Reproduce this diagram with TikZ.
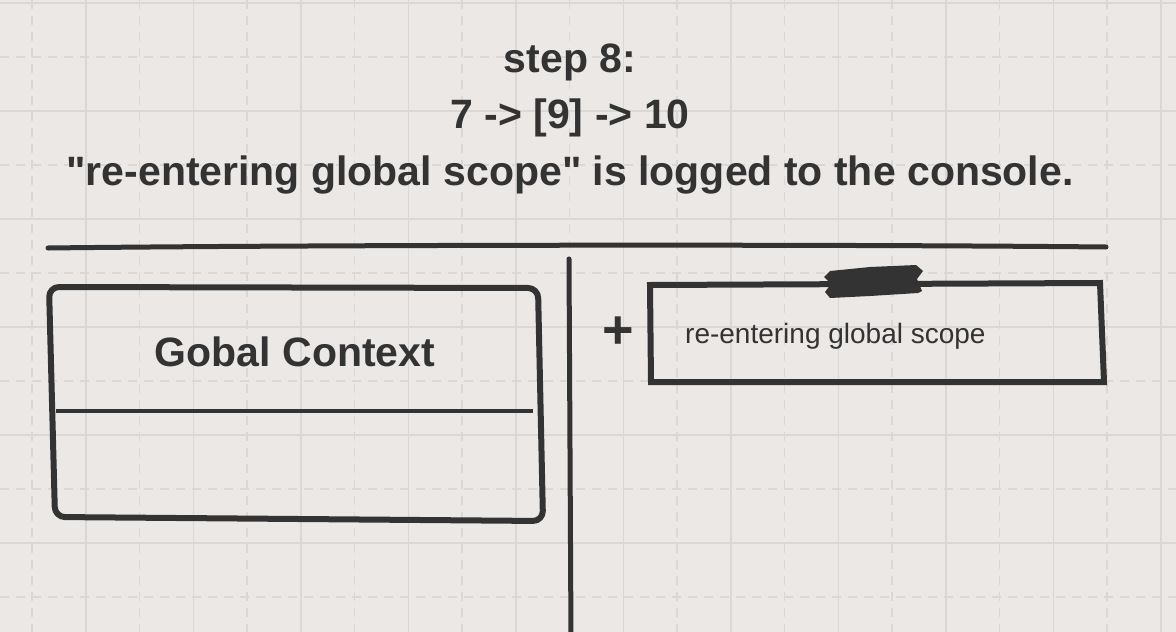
\documentclass[tikz,border=0pt]{standalone}
\usepackage{fontspec}
\setmainfont{Liberation Sans}
\newfontfamily\plainsans{Liberation Sans}
\definecolor{bgc}{HTML}{EBE8E5}
\definecolor{gridc}{HTML}{DAD7D4}
\definecolor{inkc}{HTML}{333333}
\begin{document}
\begin{tikzpicture}[x=1pt,y=-1pt,
  gridsolid/.style={draw=gridc, line width=1.5pt},
  griddash/.style={draw=gridc, line width=1.5pt, dash pattern=on 9pt off 7pt},
  ink/.style={draw=inkc, line cap=round, line join=round},
  title/.style={text=inkc, font=\plainsans\fontsize{41}{48}\selectfont\bfseries, inner sep=0pt, anchor=base},
  small/.style={text=inkc, font=\plainsans\fontsize{28}{34}\selectfont, inner sep=0pt, anchor=base west}]
\fill[bgc] (0,0) rectangle (1176,632);
\useasboundingbox (0,0) rectangle (1176,632);
% grid
\foreach \k in {0,...,10} {
  \draw[griddash] ({32+107.5*\k},0) -- ({32+107.5*\k},632);
  \draw[gridsolid] ({85.75+107.5*\k},0) -- ({85.75+107.5*\k},632);
}
\foreach \k in {0,...,5} {
  \draw[gridsolid] (0,{3+108*\k}) -- (1176,{3+108*\k});
  \draw[griddash] (0,{57+108*\k}) -- (1176,{57+108*\k});
}
% titles
\node[title] (t1) at (570,72) {step 8:};
\node[title] (t2) at (570,128) {7 -> [9] -> 10};
\node[title] (t3) at (570,185) {"re-entering global scope" is logged to the console.};
% separator lines
\coordinate (hl) at (48,248);
\coordinate (hr) at (1106,247);
\draw[ink, line width=5pt] (hl) .. controls (300,245) and (800,244) .. (hr);
\coordinate (vt) at (569,259);
\coordinate (vb) at (571,640);
\draw[ink, line width=5pt] (vt) -- (vb);
% global context box
\coordinate (g1) at (49,287);
\coordinate (g2) at (538,288);
\coordinate (g3) at (543,521);
\coordinate (g4) at (55,517);
\draw[ink, line width=6pt, rounded corners=10pt] (g1) -- (g2) -- (g3) -- (g4) -- cycle;
\coordinate (d1) at (56,411);
\coordinate (d2) at (533,411);
\draw[draw=inkc, line width=4pt] (d1) -- (d2);
\node[title] (gc) at (295,366) {Gobal Context};
% plus
\node[text=inkc, font=\plainsans\fontsize{54}{60}\selectfont\bfseries, inner sep=0pt] (plus) at (618,333) {+};
% console box
\coordinate (c1) at (650,285);
\coordinate (c2) at (1100,283);
\coordinate (c3) at (1104,382);
\coordinate (c4) at (651,382);
\draw[draw=inkc, line width=6pt, line join=miter] (c1) -- (c2) -- (c3) -- (c4) -- cycle;
\node[small] (log) at (685,343) {re-entering global scope};
% tape
\fill[inkc] (830,271) -- (870,267) -- (916,265) -- (923,271) -- (917,279) -- (922,291) -- (918,293)
  -- (870,296) -- (830,298) -- (825,292) -- (831,284) -- (824,277) -- cycle;
\end{tikzpicture}
\end{document}
